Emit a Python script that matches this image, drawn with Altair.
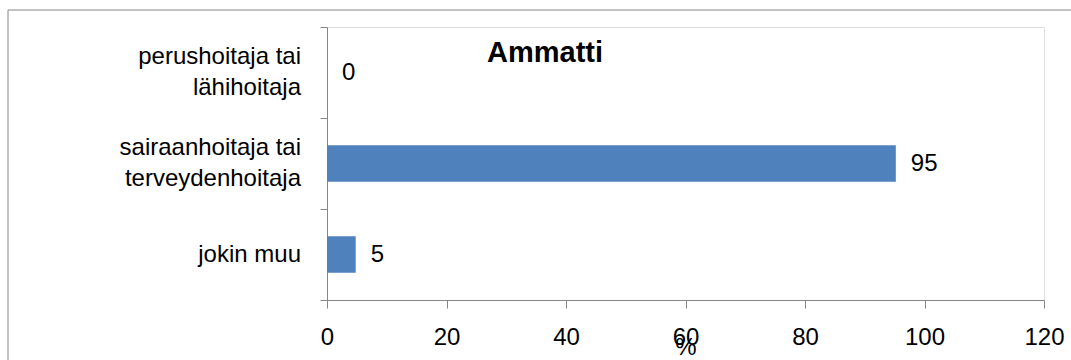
import altair as alt
import pandas as pd

categories = ["perushoitaja tai\nlähihoitaja", "sairaanhoitaja tai\nterveydenhoitaja", "jokin muu"]
values = [0.0, 95.2, 4.8]
value_labels = ["0", "95", "5"]
x_ticks = [0, 20, 40, 60, 80, 100, 120]

df = pd.DataFrame({"cat": categories, "val": values, "lab": value_labels})

FONT = "Liberation Sans"
GRAY = "#868686"

y_enc = alt.Y(
    "cat:N",
    sort=categories,
    title=None,
    scale=alt.Scale(paddingInner=0, paddingOuter=0),
    axis=alt.Axis(
        tickBand="extent",
        tickSize=7,
        labels=False,
        domainColor=GRAY,
        tickColor=GRAY,
        grid=False,
    ),
)

x_enc = alt.X(
    "val:Q",
    title="%",
    scale=alt.Scale(domain=[0, 120], nice=False),
    axis=alt.Axis(
        values=x_ticks,
        tickSize=8,
        labelPadding=17,
        labelFontSize=24,
        labelFont=FONT,
        labelColor="black",
        labelFlush=False,
        domainColor=GRAY,
        tickColor=GRAY,
        grid=False,
        titleFont=FONT,
        titleFontSize=24,
        titleFontWeight="normal",
        titleColor="black",
        titleY=35,
        titleBaseline="top",
    ),
)

base = alt.Chart(df)

bars = base.mark_bar(color="#4F81BD", height={"band": 0.4}).encode(x=x_enc, y=y_enc)

texts = base.mark_text(
    align="left", baseline="middle", dx=15, fontSize=24, font=FONT, color="black"
).encode(x="val:Q", y=alt.Y("cat:N", sort=categories), text="lab:N")

# category labels (two-line ones shifted up by half a line so the block is centred)
cat_two = base.transform_filter("indexof(datum.cat, '\\n') >= 0").mark_text(
    align="right", baseline="middle", dy=-15.5, lineBreak="\n", lineHeight=31,
    fontSize=24, font=FONT, color="black"
).encode(x=alt.value(-26), y=alt.Y("cat:N", sort=categories), text="cat:N")

cat_one = base.transform_filter("indexof(datum.cat, '\\n') < 0").mark_text(
    align="right", baseline="middle", fontSize=24, font=FONT, color="black"
).encode(x=alt.value(-26), y=alt.Y("cat:N", sort=categories), text="cat:N")

title = alt.Chart(pd.DataFrame({"t": ["Ammatti"]})).mark_text(
    align="left", baseline="alphabetic", fontSize=29, fontWeight="bold", font=FONT, color="black"
).encode(x=alt.value(160), y=alt.value(35), text="t:N")

border_left = alt.Chart(pd.DataFrame({"a": [0]})).mark_rule(color=GRAY, strokeWidth=1).encode(
    x=alt.value(-319), y=alt.value(-17), y2=alt.value(400)
)
border_top = alt.Chart(pd.DataFrame({"a": [0]})).mark_rule(color=GRAY, strokeWidth=1).encode(
    x=alt.value(-319), x2=alt.value(760), y=alt.value(-17)
)

chart = alt.layer(border_left, border_top, bars, texts, cat_two, cat_one, title).properties(
    width=717,
    height=273,
    autosize=alt.AutoSizeParams(type="none"),
    padding={"left": 327, "top": 27, "right": 27, "bottom": 60},
).configure_view(stroke=None).configure(background="white")

chart.save("out.html", embed_options={"renderer": "svg", "actions": False})
